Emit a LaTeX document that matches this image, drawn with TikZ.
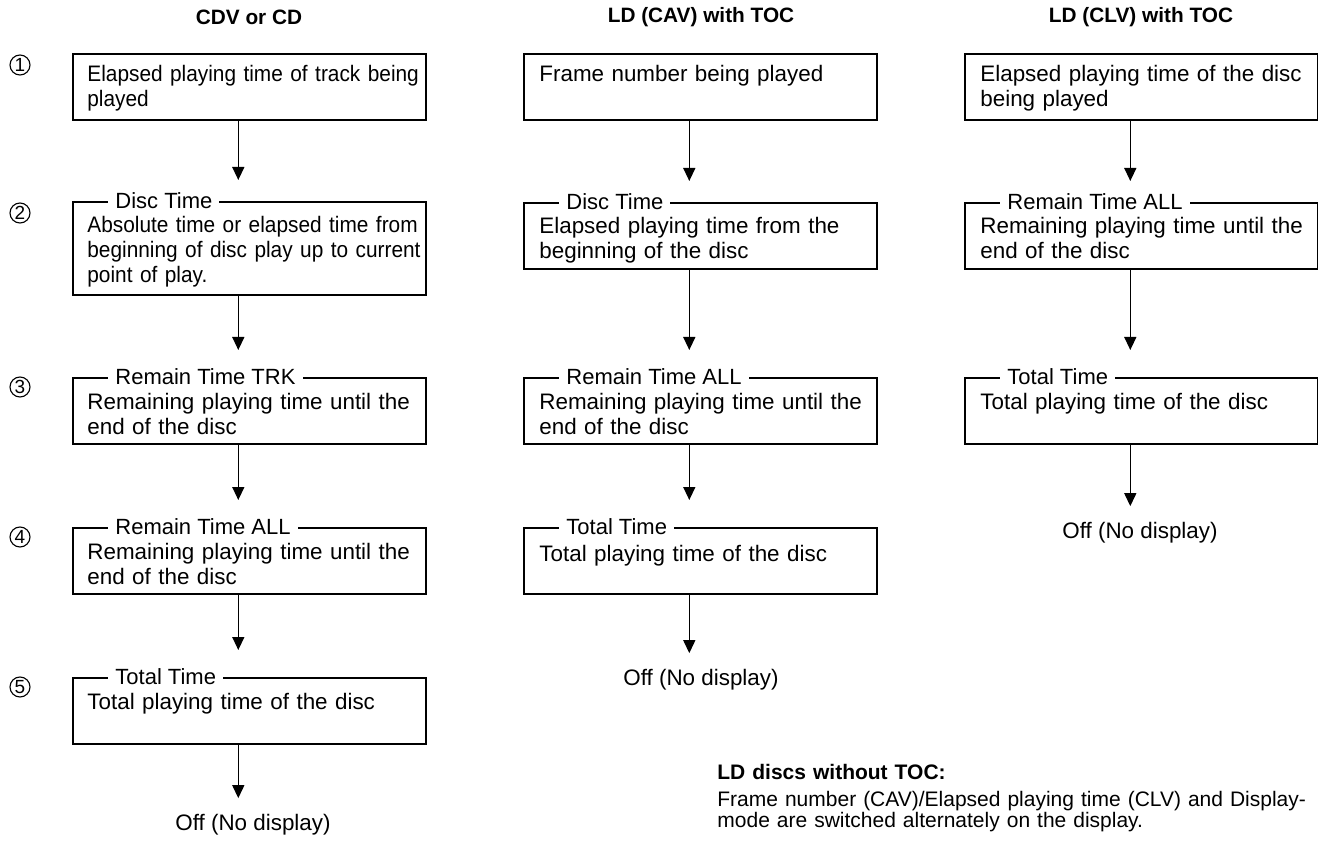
\documentclass[tikz,border=0pt]{standalone}
\usepackage{fontspec}
\setmainfont{Liberation Sans}
\newfontfamily\tightfont[FakeStretch=0.93]{Liberation Sans}
\usetikzlibrary{arrows.meta, calc}

\begin{document}
\begin{tikzpicture}[x=0.5pt, y=-0.5pt,
    panel/.style={draw, line width=0.8pt, anchor=north west, minimum width=176.5pt, minimum height=33pt, inner sep=0pt},
    body/.style={anchor=base west, align=left, text width=170pt, inner sep=0pt, font=\fontsize{11.2}{12.5}\selectfont},
    tag/.style={anchor=west, fill=white, inner xsep=3.5pt, inner ysep=1pt, font=\fontsize{11}{12}\selectfont},
    colhead/.style={font=\bfseries\fontsize{10.4}{12}\selectfont},
    rownum/.style={circle, draw, line width=0.55pt, inner sep=0pt, minimum size=10pt, font=\fontsize{9.5}{10}\selectfont},
    offtext/.style={inner sep=0pt, font=\fontsize{11.2}{12.5}\selectfont},
    flow/.style={-{Triangle[length=6.5pt,width=6pt]}, line width=0.7pt}
]
\useasboundingbox (0,0) rectangle (1318,845);

% column headers
\node[colhead] (cdhead) at (249,17) {CDV or CD};
\node[colhead] (cavhead) at (701,17) {LD (CAV) with TOC};
\node[colhead] (clvhead) at (1141,17) {LD (CLV) with TOC};

% row numbers
\foreach \n/\y in {1/65, 2/213, 3/387, 4/537, 5/687}
  \node[rownum] (n\n) at (20,\y) {\n};

% CDV or CD
\node[panel] (cd1) at (72,53) {};
\node[panel, minimum height=46.5pt] (cd2) at (72,201) {};
\node[panel] (cd3) at (72,377) {};
\node[panel] (cd4) at (72,527) {};
\node[panel] (cd5) at (72,677) {};
\node[body] (cd1t) at (87,82) {\tightfont Elapsed playing time of track being\\played};
\node[tag] (cd2l) at (108,201) {Disc Time};
\node[body] (cd2t) at (87,233) {\tightfont Absolute time or elapsed time from\\beginning of disc play up to current\\point of play.};
\node[tag] (cd3l) at (108,377) {Remain Time TRK};
\node[body] (cd3t) at (87,409) {Remaining playing time until the\\end of the disc};
\node[tag] (cd4l) at (108,527) {Remain Time ALL};
\node[body] (cd4t) at (87,559) {Remaining playing time until the\\end of the disc};
\node[tag] (cd5l) at (108,677) {Total Time};
\node[body] (cd5t) at (87,709) {Total playing time of the disc};
\node[offtext] (cdoff) at (253,825) {Off (No display)};

\draw[flow] ([xshift=-5.5pt]cd1.south) -- ([xshift=-5.5pt,yshift=10.5pt]cd2.north);
\draw[flow] ([xshift=-5.5pt]cd2.south) -- ([xshift=-5.5pt,yshift=13.5pt]cd3.north);
\draw[flow] ([xshift=-5.5pt]cd3.south) -- ([xshift=-5.5pt,yshift=13.5pt]cd4.north);
\draw[flow] ([xshift=-5.5pt]cd4.south) -- ([xshift=-5.5pt,yshift=13.5pt]cd5.north);
\draw[flow, shorten >=8pt] ([xshift=-5.5pt]cd5.south) -- ([xshift=-5.5pt]cd5.south |- cdoff.north);

% LD (CAV) with TOC
\node[panel] (cav1) at (523,53) {};
\node[panel] (cav2) at (523,202) {};
\node[panel] (cav3) at (523,377) {};
\node[panel] (cav4) at (523,527) {};
\node[body] (cav1t) at (539,82) {Frame number being played};
\node[tag] (cav2l) at (559,202) {Disc Time};
\node[body] (cav2t) at (539,234) {\makebox[163pt][s]{Elapsed playing time from the}\\beginning of the disc};
\node[tag] (cav3l) at (559,377) {Remain Time ALL};
\node[body] (cav3t) at (539,409) {Remaining playing time until the\\end of the disc};
\node[tag] (cav4l) at (559,527) {Total Time};
\node[body] (cav4t) at (539,561) {Total playing time of the disc};
\node[offtext] (cavoff) at (701,680) {Off (No display)};

\draw[flow] ([xshift=-5.5pt]cav1.south) -- ([xshift=-5.5pt,yshift=10.5pt]cav2.north);
\draw[flow] ([xshift=-5.5pt]cav2.south) -- ([xshift=-5.5pt,yshift=13.5pt]cav3.north);
\draw[flow] ([xshift=-5.5pt]cav3.south) -- ([xshift=-5.5pt,yshift=13.5pt]cav4.north);
\draw[flow, shorten >=8pt] ([xshift=-5.5pt]cav4.south) -- ([xshift=-5.5pt]cav4.south |- cavoff.north);

% LD (CLV) with TOC
\node[panel] (clv1) at (964,53) {};
\node[panel] (clv2) at (964,202) {};
\node[panel] (clv3) at (964,377) {};
\node[body] (clv1t) at (980,82) {\makebox[163pt][s]{Elapsed playing time of the disc}\\being played};
\node[tag] (clv2l) at (1000,202) {Remain Time ALL};
\node[body] (clv2t) at (980,234) {Remaining playing time until the\\end of the disc};
\node[tag] (clv3l) at (1000,377) {Total Time};
\node[body] (clv3t) at (980,409) {Total playing time of the disc};
\node[offtext] (clvoff) at (1140,533) {Off (No display)};

\draw[flow] ([xshift=-5.5pt]clv1.south) -- ([xshift=-5.5pt,yshift=10.5pt]clv2.north);
\draw[flow] ([xshift=-5.5pt]clv2.south) -- ([xshift=-5.5pt,yshift=13.5pt]clv3.north);
\draw[flow, shorten >=8pt] ([xshift=-5.5pt]clv3.south) -- ([xshift=-5.5pt]clv3.south |- clvoff.north);

% note
\node[anchor=base west, align=left, text width=300pt, inner sep=0pt, font=\fontsize{10.5}{10.5}\selectfont] (note) at (717,779)
  {{\bfseries LD discs without TOC:}\\[3pt]Frame number (CAV)/Elapsed playing time (CLV) and Display-\\mode are switched alternately on the display.};
\end{tikzpicture}
\end{document}
